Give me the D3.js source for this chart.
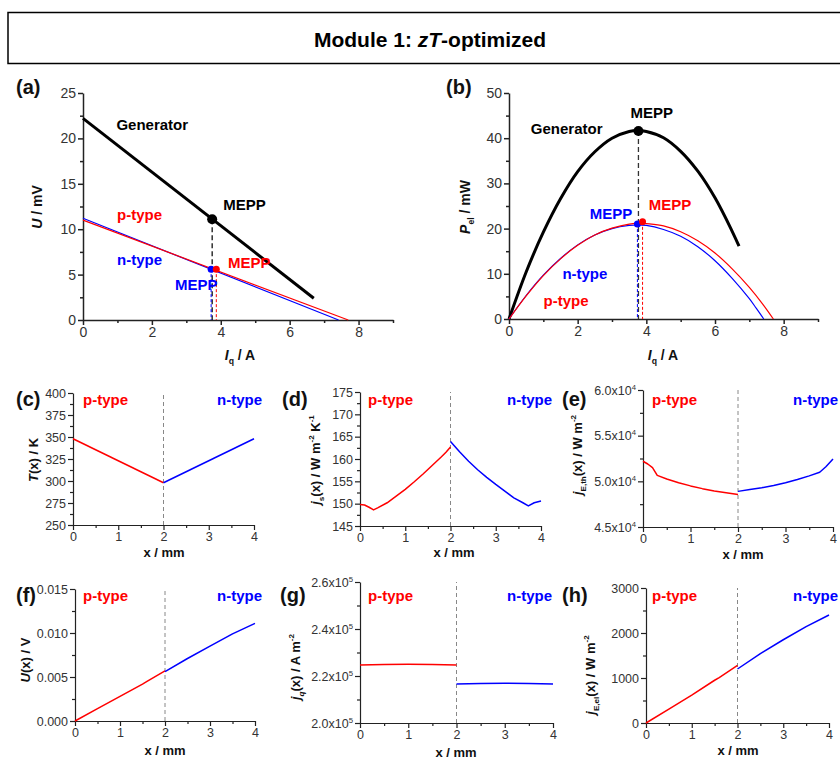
<!DOCTYPE html>
<html><head><meta charset="utf-8">
<script src="https://cdn.jsdelivr.net/npm/d3@7"></script>
<style>body{margin:0;background:#fff}svg{display:block}text{font-family:"Liberation Sans",Arial,sans-serif}</style>
</head><body><svg id="c" width="840" height="761"></svg>
<script>
// ---------- DATA ----------
// (a) U vs I_q
const aGenerator = [[0,22.2],[6.7,2.4]];
const aNtype = [[0,11.2],[7.42,0]];
const aPtype = [[0,11.0],[7.7,0]];
const aMeppGen = [3.75,11.1];
const aMeppN = [3.72,5.6];
const aMeppP = [3.87,5.6];
// (b) P_el vs I_q
const bI_gen = [0,0.5,1,1.5,2,2.5,3,3.5,3.75,4,4.5,5,5.5,6,6.5,6.7];
const bP_gen = [0,10.4,19.2,26.6,32.6,37.0,40.0,41.5,41.7,41.5,40.1,37.1,32.7,26.8,19.4,16.1];
const bI_n = [0,0.5,1,1.5,2,2.5,3,3.5,3.75,4,4.5,5,5.5,6,6.5,7,7.2,7.42];
const bP_n = [0,5.2,9.7,13.4,16.4,18.6,20.0,20.7,20.8,20.7,19.8,18.3,16.0,12.9,9.0,4.5,2.4,0];
const bI_p = [0,0.5,1,1.5,2,2.5,3,3.5,3.85,4,4.5,5,5.5,6,6.5,7,7.4,7.7];
const bP_p = [0,5.1,9.6,13.3,16.3,18.6,20.1,21.0,21.2,21.1,20.6,19.3,17.3,14.6,11.1,7.0,3.2,0];
const bMeppGen = [3.77,41.6];
const bMeppN = [3.74,21.0];
const bMeppP = [3.89,21.5];
// (c) T(x)
const cXp = [0,2], cTp = [348,298];
const cXn = [2,4], cTn = [298,348];
// (d) j_s(x)
const dXp = [0,0.1,0.2,0.3,0.4,0.6,0.8,1.0,1.2,1.4,1.6,1.8,1.9,2.0];
const dYp = [149.8,149.7,149.2,148.6,149.1,150.2,151.7,153.2,154.9,156.7,158.6,160.5,161.5,162.7];
const dXn = [2.0,2.2,2.4,2.6,2.8,3.0,3.2,3.4,3.6,3.72,3.85,4.0];
const dYn = [163.9,161.6,159.5,157.6,155.9,154.3,152.8,151.3,150.2,149.5,150.2,150.6];
// (e) j_E,th(x)
const eXp = [0,0.1,0.2,0.3,0.5,0.75,1.0,1.25,1.5,1.75,2.0];
const eYp = [52200,51900,51500,50650,50250,49850,49500,49200,48950,48750,48550];
const eXn = [2.0,2.25,2.5,2.75,3.0,3.25,3.5,3.72,3.85,4.0];
const eYn = [48900,49100,49300,49550,49850,50200,50600,51000,51600,52450];
// (f) U(x)
const fXp = [0,0.5,1.0,1.5,1.6,2.0];
const fYp = [0,0.0014,0.0028,0.0042,0.0045,0.0057];
const fXn = [2,2.5,3,3.5,4];
const fYn = [0.0056,0.0071,0.0085,0.0099,0.0111];
// (g) j_q(x)
const gXp = [0,0.5,1,1.5,2];
const gYp = [224700,224900,225000,224900,224700];
const gXn = [2,2.5,3,3.5,4];
const gYn = [216600,216800,216900,216800,216600];
// (h) j_E,el(x)
const hXp = [0,0.5,1.0,1.5,1.6,2.0];
const hYp = [0,310,620,950,1010,1280];
const hXn = [2,2.5,3,3.5,4];
const hYn = [1200,1540,1850,2140,2400];
// tick values
const ivTicks = [0,2,4,6,8], ivMinor = [1,3,5,7,9];
const aYTicks = [0,5,10,15,20,25];
const bYTicks = [0,10,20,30,40,50];
const xmmTicks = [0,1,2,3,4], xmmMinor = [0.5,1.5,2.5,3.5];
const cYTicks = [250,275,300,325,350,375,400];
const dYTicks = [145,150,155,160,165,170,175];
const eYTicks = [45000,50000,55000,60000];
const fYTicks = [0,0.005,0.010,0.015];
const gYTicks = [200000,220000,240000,260000];
const hYTicks = [0,1000,2000,3000];

// ---------- DRAW ----------
const RED = '#ff0000', BLUE = '#0000ff';
const NARROW = '"Liberation Sans Narrow","Liberation Sans",Arial,sans-serif';
const svg = d3.select('#c');

svg.append('rect').attr('x',8).attr('y',12.5).attr('width',900).attr('height',51)
  .attr('fill','none').attr('stroke','#000').attr('stroke-width',1.5);
const title = svg.append('text').attr('x',430).attr('y',47).attr('text-anchor','middle')
  .attr('font-size',21).attr('font-weight','bold');
title.append('tspan').text('Module 1: ');
title.append('tspan').attr('font-style','italic').text('zT');
title.append('tspan').text('-optimized');

function rich(t, parts, fs){
  let cur = 0;
  parts.forEach(p=>{
    const target = p.sub ? 0.3*fs : p.sup ? -0.45*fs : 0;
    const ts = t.append('tspan').text(p.t).attr('dy', target-cur);
    cur = target;
    if(p.sub||p.sup) ts.attr('font-size', fs*0.62);
    if(p.i) ts.attr('font-style','italic');
  });
}

function makePanel(cfg){
  const x = d3.scaleLinear().domain(cfg.xd).range(cfg.xr);
  const y = d3.scaleLinear().domain(cfg.yd).range(cfg.yr);
  const g = svg.append('g');
  const sw = cfg.big ? 1.5 : 1.2;
  const tfs = cfg.big ? 14 : 12.5;
  const mx = g.append('g').attr('transform',`translate(0,${cfg.yr[0]})`)
    .call(d3.axisBottom(x).tickValues(cfg.xM).tickSize(3).tickFormat(''));
  mx.select('.domain').remove();
  const my = g.append('g').attr('transform',`translate(${cfg.xr[0]},0)`)
    .call(d3.axisLeft(y).tickValues(cfg.yM).tickSize(3).tickFormat(''));
  my.select('.domain').remove();
  const ax = g.append('g').attr('transform',`translate(0,${cfg.yr[0]})`)
    .call(d3.axisBottom(x).tickValues(cfg.xT).tickSize(5).tickSizeOuter(0).tickPadding(2).tickFormat(d3.format('d')));
  const ay = g.append('g').attr('transform',`translate(${cfg.xr[0]},0)`)
    .call(d3.axisLeft(y).tickValues(cfg.yT).tickSize(5).tickSizeOuter(0).tickPadding(2).tickFormat(cfg.yF || d3.format('d')));
  [mx,my,ax,ay].forEach(s=>{
    s.selectAll('line,path').attr('stroke','#222').attr('stroke-width',sw);
    s.selectAll('text').attr('font-size',tfs).attr('fill','#333').attr('font-family',NARROW);
  });
  if(cfg.sci){
    ay.selectAll('.tick text').each(function(d){
      const t = d3.select(this); t.text('');
      const m = (d/Math.pow(10,cfg.sci)).toFixed(1);
      t.append('tspan').text(m+'x10');
      t.append('tspan').attr('dy',-5).attr('font-size',tfs*0.62).text(cfg.sci);
    });
  }
  const fs = cfg.big ? 14 : 13;
  const xl = g.append('text').attr('x',cfg.xlab[0]).attr('y',cfg.xlab[1]).attr('text-anchor','middle')
    .attr('font-size',fs).attr('font-weight','bold').attr('fill','#111');
  rich(xl, cfg.xParts, fs);
  const yl = g.append('text').attr('transform',`translate(${cfg.ylab[0]},${cfg.ylab[1]}) rotate(-90)`)
    .attr('text-anchor','middle').attr('font-size',fs).attr('font-weight','bold').attr('fill','#111');
  rich(yl, cfg.yParts, fs);
  g.append('text').attr('x',cfg.letter[0]).attr('y',cfg.letter[1]).attr('font-size',20)
    .attr('font-weight','bold').attr('fill','#111').text(cfg.name);
  return {x,y,g};
}

function line(p, xs, ys, color, w, curve){
  const gen = d3.line().x(d=>p.x(d[0])).y(d=>p.y(d[1])).curve(curve||d3.curveLinear);
  p.g.append('path').datum(xs.map((v,i)=>[v,ys[i]])).attr('d',gen)
    .attr('fill','none').attr('stroke',color).attr('stroke-width',w).attr('stroke-linejoin','round');
}
function pairLine(p, pts, color, w){
  line(p, pts.map(d=>d[0]), pts.map(d=>d[1]), color, w);
}
function label(p, txt, xv, yv, color, anchor){
  p.g.append('text').attr('x',p.x(xv)).attr('y',p.y(yv)).attr('dy','0.35em')
    .attr('text-anchor',anchor||'start').attr('font-size',15).attr('font-weight','bold')
    .attr('fill',color).text(txt);
}
function vdash(p, xv, y0, y1, color, w, dash){
  p.g.append('line').attr('x1',p.x(xv)).attr('x2',p.x(xv)).attr('y1',p.y(y0)).attr('y2',p.y(y1))
    .attr('stroke',color).attr('stroke-width',w).attr('stroke-dasharray',dash||'5,3');
}
function dot(p, pt, color, r){
  p.g.append('circle').attr('cx',p.x(pt[0])).attr('cy',p.y(pt[1])).attr('r',r).attr('fill',color);
}
function typeLabels(p, cfg){
  p.g.append('text').attr('x',cfg.pStart).attr('y',cfg.tl).attr('dy','0.35em').attr('font-size',15)
    .attr('font-weight','bold').attr('fill',RED).text('p-type');
  p.g.append('text').attr('x',cfg.nEnd).attr('y',cfg.tl).attr('dy','0.35em').attr('text-anchor','end').attr('font-size',15)
    .attr('font-weight','bold').attr('fill',BLUE).text('n-type');
}

const IqParts = [{t:'I',i:true},{t:'q',sub:true},{t:' / A'}];
const xmmParts = [{t:'x / mm'}];
const smooth = d3.curveCatmullRom.alpha(0.5);

// (a)
const pa = makePanel({name:'(a)', big:true, xd:[0,9], xr:[83,393], yd:[0,25], yr:[320,93],
  xT:ivTicks, xM:ivMinor, yT:aYTicks, yM:[2.5,7.5,12.5,17.5,22.5],
  xlab:[240,360], ylab:[42,207], letter:[16,94],
  xParts:IqParts, yParts:[{t:'U',i:true},{t:' / mV'}]});
pairLine(pa, aGenerator, '#000', 3);
pairLine(pa, aNtype, BLUE, 1.2);
pairLine(pa, aPtype, RED, 1.2);
vdash(pa, aMeppGen[0], aMeppGen[1], 0, '#111', 1.3, '5,3');
vdash(pa, aMeppN[0], aMeppN[1], 0, BLUE, 1, '3,2');
vdash(pa, aMeppP[0], aMeppP[1], 0, RED, 1, '3,2');
dot(pa, aMeppGen, '#000', 5);
dot(pa, aMeppN, BLUE, 3.5);
dot(pa, aMeppP, RED, 3.5);
label(pa, 'Generator', 0.97, 21.5, '#000');
label(pa, 'MEPP', 4.07, 12.7, '#000');
label(pa, 'p-type', 0.99, 11.55, RED);
label(pa, 'n-type', 0.99, 6.6, BLUE);
label(pa, 'MEPP', 4.21, 6.3, RED);
label(pa, 'MEPP', 2.67, 3.85, BLUE);

// (b)
const pb = makePanel({name:'(b)', big:true, xd:[0,9], xr:[509,818], yd:[0,50], yr:[319,93],
  xT:ivTicks, xM:ivMinor, yT:bYTicks, yM:[5,15,25,35,45],
  xlab:[663,360], ylab:[470,207], letter:[446,94],
  xParts:IqParts, yParts:[{t:'P',i:true},{t:'el',sub:true},{t:' / mW'}]});
line(pb, bI_gen, bP_gen, '#000', 3, smooth);
line(pb, bI_n, bP_n, BLUE, 1.2, smooth);
line(pb, bI_p, bP_p, RED, 1.2, smooth);
vdash(pb, bMeppGen[0], bMeppGen[1], 0, '#333', 1.3, '5,3');
vdash(pb, bMeppN[0], bMeppN[1], 0, BLUE, 1, '3,2');
vdash(pb, bMeppP[0], bMeppP[1], 0, RED, 1, '3,2');
dot(pb, bMeppGen, '#000', 5);
dot(pb, bMeppN, BLUE, 3.5);
dot(pb, bMeppP, RED, 3.5);
label(pb, 'MEPP', 4.16, 45.6, '#000', 'middle');
label(pb, 'Generator', 1.68, 42.0, '#000', 'middle');
label(pb, 'MEPP', 4.69, 25.2, RED, 'middle');
label(pb, 'MEPP', 2.97, 23.2, BLUE, 'middle');
label(pb, 'n-type', 2.21, 10.0, BLUE, 'middle');
label(pb, 'p-type', 1.66, 4.0, RED, 'middle');

function xmmPanel(cfg, xp, yp, xn, yn){
  const p = makePanel(cfg);
  vdash(p, 2, cfg.yd[0], cfg.yd[1], '#888', 1, '4,3');
  line(p, xp, yp, RED, 1.5);
  line(p, xn, yn, BLUE, 1.5);
  typeLabels(p, cfg);
  return p;
}

xmmPanel({name:'(c)', xd:[0,4], xr:[73,254], yd:[250,400], yr:[525,393],
  xT:xmmTicks, xM:xmmMinor, yT:cYTicks, yM:[262.5,287.5,312.5,337.5,362.5,387.5],
  xlab:[164,557], ylab:[38,460], letter:[16,406], tl:400, pStart:83, nEnd:262,
  xParts:xmmParts, yParts:[{t:'T',i:true},{t:'(x) / K'}]}, cXp, cTp, cXn, cTn);

xmmPanel({name:'(d)', xd:[0,4], xr:[360,541], yd:[145,175], yr:[526,392],
  xT:xmmTicks, xM:xmmMinor, yT:dYTicks, yM:[147.5,152.5,157.5,162.5,167.5,172.5],
  xlab:[454,557], ylab:[320,460], letter:[282,406], tl:400, pStart:368, nEnd:552,
  xParts:xmmParts, yParts:[{t:'j',i:true},{t:'s',sub:true},{t:'(x) / W m'},{t:'-2',sup:true},{t:' K'},{t:'-1',sup:true}]},
  dXp, dYp, dXn, dYn);

xmmPanel({name:'(e)', sci:4, xd:[0,4], xr:[643,833], yd:[45000,60000], yr:[527,390],
  xT:xmmTicks, xM:xmmMinor, yT:eYTicks, yM:[47500,52500,57500],
  xlab:[743,559], ylab:[582,455], letter:[562,406], tl:400, pStart:652, nEnd:838,
  xParts:xmmParts, yParts:[{t:'j',i:true},{t:'E,th',sub:true},{t:'(x) / W m'},{t:'-2',sup:true}]},
  eXp, eYp, eXn, eYn);

xmmPanel({name:'(f)', yF:d3.format('.3f'), xd:[0,4], xr:[75,255], yd:[0,0.015], yr:[721,589],
  xT:xmmTicks, xM:xmmMinor, yT:fYTicks, yM:[0.0025,0.0075,0.0125],
  xlab:[165,755], ylab:[30,660], letter:[16,602], tl:596, pStart:83, nEnd:262,
  xParts:xmmParts, yParts:[{t:'U',i:true},{t:'(x) / V'}]}, fXp, fYp, fXn, fYn);

xmmPanel({name:'(g)', sci:5, xd:[0,4], xr:[360,553], yd:[200000,260000], yr:[723,582],
  xT:xmmTicks, xM:xmmMinor, yT:gYTicks, yM:[210000,230000,250000],
  xlab:[456,757], ylab:[300,667], letter:[280,602], tl:596, pStart:368, nEnd:552,
  xParts:xmmParts, yParts:[{t:'j',i:true},{t:'q',sub:true,i:true},{t:'(x) / A m'},{t:'-2',sup:true}]},
  gXp, gYp, gXn, gYn);

xmmPanel({name:'(h)', xd:[0,4], xr:[646,829], yd:[0,3000], yr:[723,588],
  xT:xmmTicks, xM:xmmMinor, yT:hYTicks, yM:[500,1500,2500],
  xlab:[738,755], ylab:[595,675], letter:[562,602], tl:596, pStart:652, nEnd:838,
  xParts:xmmParts, yParts:[{t:'j',i:true},{t:'E,el',sub:true},{t:'(x) / W m'},{t:'-2',sup:true}]},
  hXp, hYp, hXn, hYn);
</script></body></html>
